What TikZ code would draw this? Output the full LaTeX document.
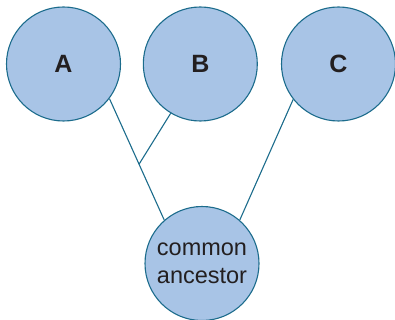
\documentclass[tikz,border=0pt]{standalone}
\usepackage{fontspec}
\setmainfont{Liberation Sans}
\usetikzlibrary{calc}
\definecolor{cfill}{RGB}{168,196,230}
\definecolor{cline}{RGB}{28,108,140}
\definecolor{ctext}{RGB}{35,31,32}
\begin{document}
\begin{tikzpicture}[x=1pt,y=-1pt,
  taxon/.style={circle,draw=cline,fill=cfill,line width=1.1pt,minimum size=114pt,inner sep=0pt,text=ctext},
  big/.style={font=\fontsize{25}{28}\selectfont\bfseries},
  anc/.style={font=\fontsize{23.5}{28}\selectfont,align=center},
  branch/.style={draw=cline,line width=1.1pt}]
\useasboundingbox (0,0) rectangle (395,320);
\node[taxon,big] (A) at (63.5,64) {A};
\node[taxon,big] (B) at (200.3,64) {B};
\node[taxon,big] (C) at (338.5,64) {C};
\node[taxon,anc] (ca) at (202,263.5) {common\\ancestor};
\coordinate (j) at ($(A.-37)!0.54!(ca.131)$);
\draw[branch] (A.-37) -- (ca.131);
\draw[branch] (B.239) -- (j);
\draw[branch] (C.218) -- (ca.49);
\end{tikzpicture}
\end{document}
